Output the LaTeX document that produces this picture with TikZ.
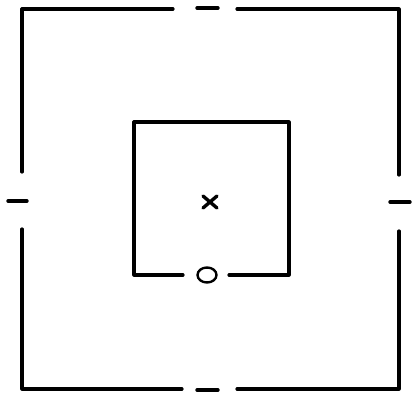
\documentclass[tikz,border=0pt]{standalone}
\usepackage{tikz}
\usetikzlibrary{calc, shapes.geometric}

\begin{document}
\begin{tikzpicture}[
  x=1pt, y=-1pt,
  wall/.style={line width=3.2pt, line cap=round, line join=round},
  tick/.style={line width=3.4pt, line cap=round},
  ring/.style={ellipse, draw, line width=2.4pt, minimum width=19pt, minimum height=15pt, inner sep=0pt}
]
\useasboundingbox (0,0) rectangle (413,396);
% outer square, gaps in the middle of each side
\draw[wall] (173,9) -- (22,9) -- (22,172);
\draw[wall] (22,229) -- (22,389) -- (182,389);
\draw[wall] (237,389) -- (399,389) -- (399,231);
\draw[wall] (399,175) -- (399,9) -- (237,9);
% short dashes in the gaps
\draw[tick] (197,8) -- (218,8);
\draw[tick] (197,390) -- (218,390);
\draw[tick] (8,201) -- (27,201);
\draw[tick] (390,202) -- (410,202);
% inner square, open at the bottom
\draw[wall] (183,275) -- (134,275) -- (134,122) -- (289,122) -- (289,275) -- (229,275);
\node[ring] (door) at (207,275) {};
% centre cross
\coordinate (centre) at (210,202);
\draw[tick] ($(centre)+(-7,-6)$) -- ($(centre)+(7,6)$);
\draw[tick] ($(centre)+(-7,6)$) -- ($(centre)+(7,-6)$);
\end{tikzpicture}
\end{document}
